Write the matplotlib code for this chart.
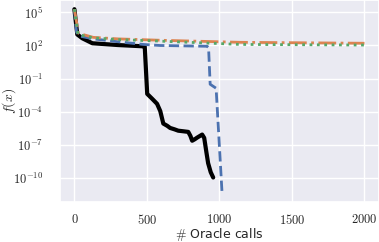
import numpy as np
import matplotlib
matplotlib.use("Agg")
from matplotlib import pyplot as plt
from matplotlib import ticker
import seaborn as sns

# oracle calls / objective values
x_black = [0, 20, 55, 124, 300, 470, 485, 502, 537, 570, 592, 613, 640, 660, 690, 716,
           750, 785, 800, 812, 830, 846, 881, 895, 910, 922, 940, 957]
y_black = [2e5, 1e3, 4.5e2, 1.6e2, 1.1e2, 85, 80, 4e-3, 1.4e-3, 5e-4, 1.1e-4, 8e-6,
           5e-6, 3.2e-6, 2.4e-6, 1.8e-6, 1.6e-6, 1.4e-6, 6e-7, 2.2e-7, 3e-7, 4.2e-7,
           8e-7, 4e-7, 2e-8, 2e-9, 3e-10, 1e-10]

x_blue = [0, 15, 40, 130, 300, 475, 592, 915, 925, 936, 977, 1018]
y_blue = [2e5, 1.6e3, 7e2, 4e2, 2.2e2, 1.25e2, 1e2, 85, 65, 3e-2, 1.3e-2, 4e-12]

x_orange = [0, 28, 130, 300, 592, 1142, 2000]
y_orange = [2e5, 1.3e3, 5.5e2, 4e2, 3e2, 1.95e2, 1.6e2]

x_green = [0, 25, 130, 300, 592, 1142, 2000]
y_green = [2e5, 1e3, 5e2, 3.5e2, 2.5e2, 1.25e2, 1.1e2]

sns.set_theme(style="darkgrid")
plt.rcParams['mathtext.fontset'] = 'cm'
plt.rcParams['font.family'] = ['DejaVu Sans']

pal = sns.color_palette("deep")

fig, ax = plt.subplots(figsize=(3.79, 2.42), dpi=100)
ax.plot(x_black, y_black, color='black', lw=3)
ax.plot(x_blue, y_blue, '--', color=pal[0], lw=2)
ax.plot(x_orange, y_orange, '-.', color=pal[1], lw=2)
ax.plot(x_green, y_green, ':', color=pal[2], lw=2)
ax.set_yscale('log')

ax.set_yticks([1e5, 1e2, 1e-1, 1e-4, 1e-7, 1e-10])
ax.yaxis.set_major_formatter(ticker.FuncFormatter(
    lambda v, p: r'$10^{%d}$' % int(round(np.log10(v)))))
ax.yaxis.set_minor_locator(ticker.NullLocator())
ax.set_xticks([0, 500, 1000, 1500, 2000])
ax.xaxis.set_major_formatter(ticker.FuncFormatter(lambda v, p: r'$%d$' % v))
ax.tick_params(axis='y', labelsize=9, pad=6)
ax.tick_params(axis='x', labelsize=9, pad=2)

ax.set_xlabel(r'$\#$ Oracle calls', fontsize=9)
ax.set_ylabel(r'$f(x)$', fontsize=10)
ax.xaxis.set_label_coords(0.5, -0.118)
ax.yaxis.set_label_coords(-0.13, 0.5)

plt.subplots_adjust(left=0.158, right=1.0, bottom=0.165, top=1.0)
plt.savefig('out.png')
